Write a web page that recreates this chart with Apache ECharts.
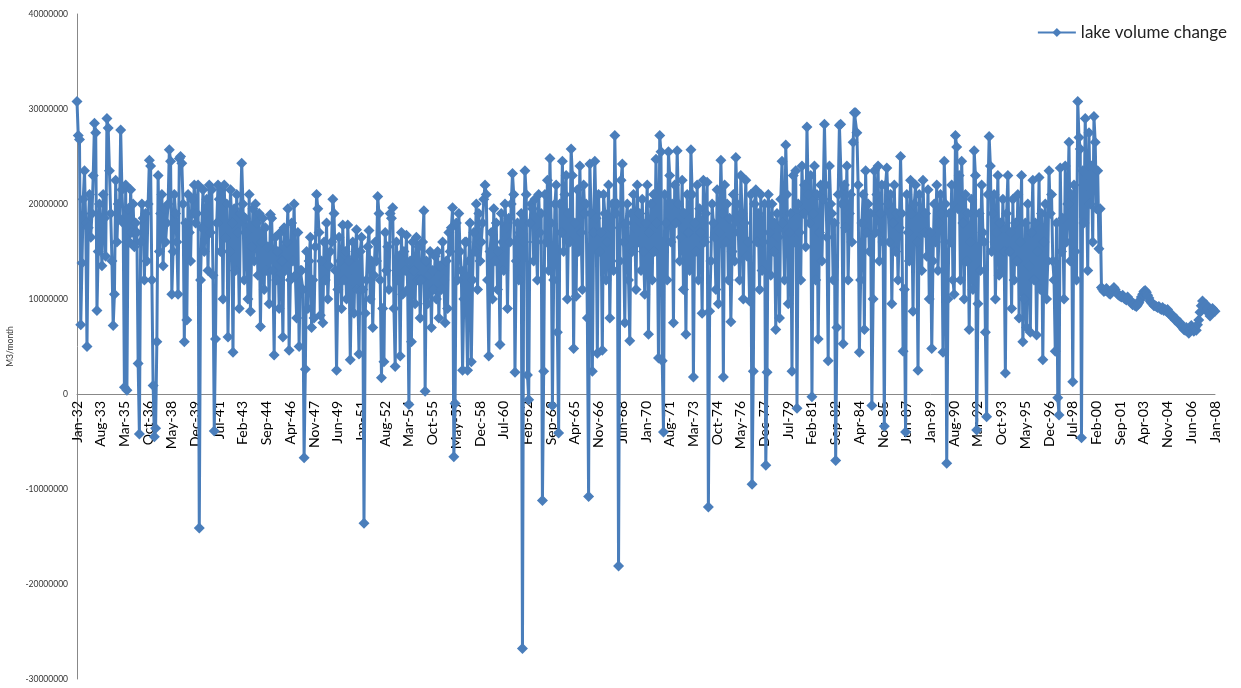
<!DOCTYPE html>
<html>
<head>
<meta charset="utf-8">
<script src="https://cdn.jsdelivr.net/npm/echarts@6/dist/echarts.min.js"></script>
<style>
html,body{margin:0;padding:0;background:#ffffff;}
#chart{width:1241px;height:688px;}
</style>
</head>
<body>
<div id="chart"></div>
<script>
// ---- data (values in millions of m3 per month) ----
const seriesName = 'lake volume change';
const yAxisTitle = 'M3/month';
const monthNames = ['Jan','Feb','Mar','Apr','May','Jun','Jul','Aug','Sep','Oct','Nov','Dec'];
const startYear = 1932;
const yMin = -30, yMax = 40, yStep = 10;   // axis range in millions
const values = [
/*1932*/ 30.8, 27.2, 26.8, 7.3, 13.8, 20.5, 23.5, 18.0, 5.0, 17.5, 21.0, 16.5,
/*1933*/ 19.0, 23.0, 28.5, 27.5, 8.8, 15.0, 20.0, 17.0, 13.5, 21.0, 18.5, 14.5,
/*1934*/ 29.0, 28.0, 23.5, 19.0, 14.0, 7.2, 10.5, 22.5, 16.0, 20.0, 18.5, 27.8,
/*1935*/ 21.5, 18.0, 0.7, 22.0, 0.4, 19.5, 16.0, 21.5, 17.0, 20.0, 15.5, 18.0,
/*1936*/ 17.0, 3.2, -4.2, 16.0, 20.0, 18.5, 12.0, 19.0, 14.0, 20.0, 24.6, 24.0,
/*1937*/ 12.0, 0.9, -4.5, -3.6, 5.5, 23.0, 15.0, 19.0, 21.0, 13.5, 19.5, 16.0,
/*1938*/ 18.0, 20.0, 25.7, 24.5, 10.5, 15.0, 21.0, 19.0, 16.0, 10.5, 24.8, 25.0,
/*1939*/ 24.3, 20.0, 5.5, 18.0, 7.8, 21.0, 17.0, 14.0, 20.5, 19.0, 22.0, 18.0,
/*1940*/ 19.0, 22.0, -14.1, 12.0, 17.5, 21.5, 15.0, 19.0, 20.5, 13.0, 22.0, 17.0,
/*1941*/ 21.5, 12.5, -3.9, 5.8, 18.0, 22.0, 20.5, 15.0, 21.5, 10.0, 22.0, 16.5,
/*1942*/ 20.0, 6.0, 15.0, 21.5, 18.0, 4.4, 19.5, 13.0, 21.0, 17.0, 9.0, 19.0,
/*1943*/ 24.3, 20.0, 12.0, 18.5, 17.0, 10.0, 21.0, 8.7, 15.5, 19.5, 14.0, 20.0,
/*1944*/ 18.0, 12.5, 19.0, 7.1, 16.0, 18.5, 11.0, 17.5, 13.0, 15.5, 9.5, 18.9,
/*1945*/ 18.5, 13.0, 4.1, 16.5, 12.0, 15.0, 9.0, 17.0, 14.0, 6.0, 17.5, 13.0,
/*1946*/ 16.0, 19.5, 4.6, 12.0, 18.0, 14.0, 20.0, 12.5, 8.0, 17.0, 5.0, 13.0,
/*1947*/ 13.0, 11.0, -6.7, 2.6, 15.0, 9.0, 14.0, 16.5, 7.0, 12.0, 8.0, 15.5,
/*1948*/ 21.0, 19.5, 17.0, 8.3, 14.0, 7.5, 16.0, 12.0, 18.0, 10.0, 13.5, 15.0,
/*1949*/ 16.0, 20.5, 19.0, 13.0, 2.5, 11.0, 16.5, 14.0, 9.0, 17.8, 12.0, 15.0,
/*1950*/ 10.0, 17.8, 14.0, 3.6, 12.0, 16.0, 8.5, 14.5, 17.3, 11.0, 4.2, 15.0,
/*1951*/ 16.5, 11.0, -13.6, 8.5, 12.0, 15.5, 17.2, 10.0, 14.0, 7.0, 12.5, 16.0,
/*1952*/ 14.0, 20.8, 19.0, 12.0, 1.7, 9.0, 3.4, 17.0, 13.0, 15.5, 11.0, 19.0,
/*1953*/ 18.5, 19.6, 9.0, 2.9, 16.0, 12.0, 14.5, 4.0, 17.0, 10.5, 15.0, 13.0,
/*1954*/ 16.7, 11.0, -1.1, 14.0, 5.5, 16.0, 13.0, 9.5, 16.5, 12.0, 15.5, 8.0,
/*1955*/ 12.0, 16.0, 19.3, 0.3, 14.0, 9.5, 12.5, 15.0, 7.0, 13.0, 11.0, 14.5,
/*1956*/ 10.0, 15.0, 8.0, 13.5, 11.0, 16.0, 12.0, 7.5, 14.0, 9.0, 17.0, 15.0,
/*1957*/ 17.5, 19.6, -6.6, -1.0, 18.0, 12.0, 19.0, 15.0, 13.0, 2.5, 10.0, 16.0,
/*1958*/ 16.0, 2.5, 14.0, 18.0, 3.4, 12.0, 17.0, 15.0, 20.0, 11.0, 19.0, 14.0,
/*1959*/ 16.0, 18.0, 20.5, 22.0, 21.0, 12.0, 4.0, 15.0, 17.0, 10.0, 19.5, 14.0,
/*1960*/ 18.0, 11.0, 15.0, 5.2, 19.0, 16.0, 13.0, 20.0, 17.5, 9.0, 18.5, 16.0,
/*1961*/ 20.0, 23.2, 21.0, 2.3, 14.0, 18.0, 12.0, 17.0, 19.0, -26.8, 16.0, 23.5,
/*1962*/ 21.0, 2.0, -0.6, 18.0, 20.0, 19.5, 14.0, 20.5, 16.0, 12.0, 21.0, 17.0,
/*1963*/ 19.0, -11.2, 2.4, 21.0, 16.0, 22.5, 13.0, 24.8, 18.0, -1.2, 12.0, 20.0,
/*1964*/ 22.0, 6.5, -4.1, 20.0, 17.0, 24.5, 15.0, 21.0, 23.0, 10.0, 19.0, 16.0,
/*1965*/ 25.8, 23.0, 4.8, 18.0, 10.3, 21.5, 15.0, 24.0, 17.0, 11.0, 22.0, 19.0,
/*1966*/ 20.0, 8.0, -10.8, 24.2, 19.0, 2.4, 17.0, 24.5, 18.5, 4.3, 21.0, 15.0,
/*1967*/ 17.0, 4.6, 21.0, 19.0, 12.0, 16.0, 22.0, 8.0, 17.5, 20.0, 13.0, 27.2,
/*1968*/ 19.0, 20.0, -18.1, 14.0, 22.5, 24.2, 16.0, 7.5, 18.0, 20.0, 12.0, 5.6,
/*1969*/ 19.0, 15.0, 21.0, 17.5, 11.0, 22.0, 16.0, 19.0, 13.0, 20.5, 15.0, 10.5,
/*1970*/ 18.0, 22.0, 6.3, 17.0, 20.0, 12.0, 21.0, 15.0, 24.7, 18.0, 3.8, 27.2,
/*1971*/ 25.5, 3.5, -4.0, 21.0, 18.0, 12.0, 25.5, 23.0, 16.0, 20.0, 7.5, 22.0,
/*1972*/ 18.0, 25.6, 20.0, 14.0, 16.5, 22.5, 11.0, 19.0, 6.3, 21.0, 17.0, 13.0,
/*1973*/ 25.7, 21.0, 1.8, 18.0, 15.0, 22.0, 12.0, 19.5, 17.0, 8.5, 22.5, 16.0,
/*1974*/ 19.0, 22.3, -11.9, 8.7, 14.0, 20.0, 18.0, 16.5, 11.0, 21.5, 9.5, 17.0,
/*1975*/ 24.6, 19.0, 1.8, 22.0, 16.0, 20.0, 12.0, 18.5, 7.6, 15.0, 21.0, 14.0,
/*1976*/ 24.9, 20.0, 17.0, 12.0, 23.0, 19.0, 10.0, 18.0, 22.5, 14.5, 16.0, 9.8,
/*1977*/ 21.0, -9.5, 2.4, 20.0, 21.5, 16.0, 19.0, 11.0, 21.0, 13.0, 16.0, 20.0,
/*1978*/ -7.5, 2.3, 21.0, 17.0, 12.5, 20.0, 15.0, 18.0, 6.8, 19.0, 16.5, 8.0,
/*1979*/ 20.5, 24.5, 18.0, 12.0, 26.2, 21.0, 9.5, 17.0, 19.0, 2.4, 23.0, 16.0,
/*1980*/ 23.5, -1.5, 20.0, 17.0, 12.0, 24.0, 19.0, 22.0, 15.5, 28.1, 21.0, 18.0,
/*1981*/ 23.0, -0.3, 19.0, 24.0, 12.0, 21.0, 5.8, 17.0, 22.0, 14.0, 20.5, 28.4,
/*1982*/ 22.0, 16.5, 3.5, 24.0, 20.0, 19.0, 12.0, 18.0, -7.0, 7.0, 21.0, 28.3,
/*1983*/ 28.4, 20.0, 5.3, 22.0, 17.5, 24.0, 12.0, 19.0, 21.0, 16.0, 26.5, 29.6,
/*1984*/ 29.6, 27.5, 22.0, 4.4, 12.0, 18.0, 21.0, 6.8, 23.5, 17.0, 20.0, 15.0,
/*1985*/ 19.0, -1.2, 10.0, 23.5, 17.0, 21.0, 24.0, 14.0, 19.0, 22.0, 16.0, -3.4,
/*1986*/ 22.0, 23.8, 20.0, 16.0, 21.0, 9.5, 18.0, 22.0, 15.0, 19.0, 12.0, 17.5,
/*1987*/ 25.0, 19.0, 4.5, 11.0, -4.0, 21.0, 17.0, 14.0, 22.5, 19.0, 8.7, 20.0,
/*1988*/ 22.0, 16.0, 2.5, 21.0, 18.0, 13.0, 22.5, 17.0, 19.0, 14.5, 21.5, 10.0,
/*1989*/ 17.0, 4.8, 14.0, 20.0, 16.0, 22.0, 13.0, 18.0, 21.0, 19.0, 4.4, 24.5,
/*1990*/ 20.0, -7.3, 10.0, 19.0, 16.0, 22.0, 12.0, 10.5, 27.2, 26.0, 19.5, 23.0,
/*1991*/ 12.0, 24.5, 18.0, 10.0, 21.0, 14.0, 19.0, 6.8, 16.0, 20.5, 11.0, 25.6,
/*1992*/ 23.0, -3.8, 9.5, 19.0, 13.0, 22.0, 17.0, 16.0, 6.5, -2.4, 21.0, 27.1,
/*1993*/ 24.0, 15.0, 19.0, 21.0, 10.0, 17.0, 23.0, 12.5, 18.0, 13.0, 20.5, 15.0,
/*1994*/ 2.2, 19.0, 23.0, 15.0, 17.0, 9.0, 20.5, 12.0, 18.0, 14.0, 21.0, 8.0,
/*1995*/ 16.0, 23.0, 5.5, 10.0, 18.0, 7.0, 20.0, 13.5, 6.5, 17.0, 22.5, 12.0,
/*1996*/ 18.0, 6.2, 15.0, 22.8, 11.0, 19.0, 3.6, 16.0, 20.0, 10.0, 14.0, 23.5,
/*1997*/ 19.0, 21.0, 14.0, 12.0, 4.5, 18.0, -0.4, -2.2, 23.8, 15.0, 18.5, 10.0,
/*1998*/ 24.0, 16.0, 20.0, 26.5, 14.0, 21.0, 1.3, 22.0, 15.0, 12.0, 30.8, 27.0,
/*1999*/ 25.8, -4.6, 23.5, 18.0, 29.0, 22.0, 13.0, 27.5, 20.0, 24.0, 16.0, 29.2,
/*2000*/ 26.5, 19.5, 23.5, 15.3, 19.5, 11.2, 11.0, 10.8, 10.9, 11.1, 10.8, 10.6,
/*2001*/ 10.5, 10.7, 11.0, 11.2, 11.0, 10.7, 10.5, 10.4, 10.3, 10.2, 10.4, 10.1,
/*2002*/ 10.0, 9.9, 10.2, 10.0, 9.8, 9.6, 9.4, 9.5, 9.3, 9.2, 9.4, 9.6,
/*2003*/ 9.9, 10.2, 10.5, 10.8, 10.9, 10.7, 10.4, 10.1, 9.8, 9.6, 9.5, 9.3,
/*2004*/ 9.3, 9.2, 9.1, 9.2, 9.0, 8.9, 9.1, 8.8, 8.9, 8.7, 8.9, 8.5,
/*2005*/ 8.4, 8.2, 8.3, 8.0, 7.8, 7.9, 7.6, 7.4, 7.5, 7.2, 7.0, 6.8,
/*2006*/ 6.7, 7.0, 6.6, 6.4, 6.8, 7.2, 6.9, 6.6, 7.0, 6.7, 7.3, 7.8,
/*2007*/ 8.6, 9.3, 9.8, 9.5, 9.1, 9.4, 9.0, 8.5, 8.2, 8.6, 9.0, 8.8,
/*2008*/ 8.7
];

// category labels: one per month, "Mon-YY"
const categories = values.map(function (v, i) {
  const y = startYear + Math.floor(i / 12);
  return monthNames[i % 12] + '-' + String(y % 100).padStart(2, '0');
});

// plot area geometry
const gridTop = 14, gridBottom = 9, chartH = 688;
const plotH = chartH - gridTop - gridBottom;
// distance of the zero line above the plot bottom, so the category axis sits on zero
const zeroOffset = plotH * (0 - yMin) / (yMax - yMin);

const chart = echarts.init(document.getElementById('chart'), null, {renderer: 'canvas'});
chart.setOption({
  animation: false,
  backgroundColor: '#ffffff',
  grid: {left: 77, right: 26, top: gridTop, bottom: gridBottom, containLabel: false, outerBoundsMode: 'none'},
  legend: {
    show: true,
    right: 9,
    top: 19,
    itemWidth: 38,
    itemHeight: 11,
    itemGap: 6,
    textStyle: {fontFamily: 'Lato', fontSize: 17, color: '#222222'},
    data: [seriesName]
  },
  xAxis: {
    type: 'category',
    position: 'bottom',
    data: categories,
    boundaryGap: false,
    offset: -zeroOffset,
    axisLine: {onZero: false, lineStyle: {color: '#888888', width: 1}},
    axisTick: {show: false},
    axisLabel: {
      interval: 18,
      rotate: 90,
      margin: 7,
      fontFamily: 'Lato',
      fontSize: 14,
      color: '#000000'
    },
    splitLine: {show: false}
  },
  yAxis: {
    type: 'value',
    min: yMin,
    max: yMax,
    interval: yStep,
    name: yAxisTitle,
    nameLocation: 'middle',
    nameGap: 58,
    nameTextStyle: {fontFamily: 'Lato', fontSize: 8.5, color: '#333333'},
    axisLine: {show: true, lineStyle: {color: '#888888', width: 1}},
    axisTick: {show: false},
    axisLabel: {
      margin: 9,
      fontFamily: 'Lato',
      fontSize: 8.5,
      color: '#333333',
      formatter: function (v) { return String(Math.round(v * 1e6)); }
    },
    splitLine: {show: false}
  },
  series: [{
    name: seriesName,
    type: 'line',
    data: values,
    symbol: 'diamond',
    symbolSize: 11,
    showSymbol: true,
    showAllSymbol: true,
    itemStyle: {color: '#4A7EBB'},
    lineStyle: {color: '#4A7EBB', width: 3},
    emphasis: {disabled: true}
  }]
});
</script>
</body>
</html>
